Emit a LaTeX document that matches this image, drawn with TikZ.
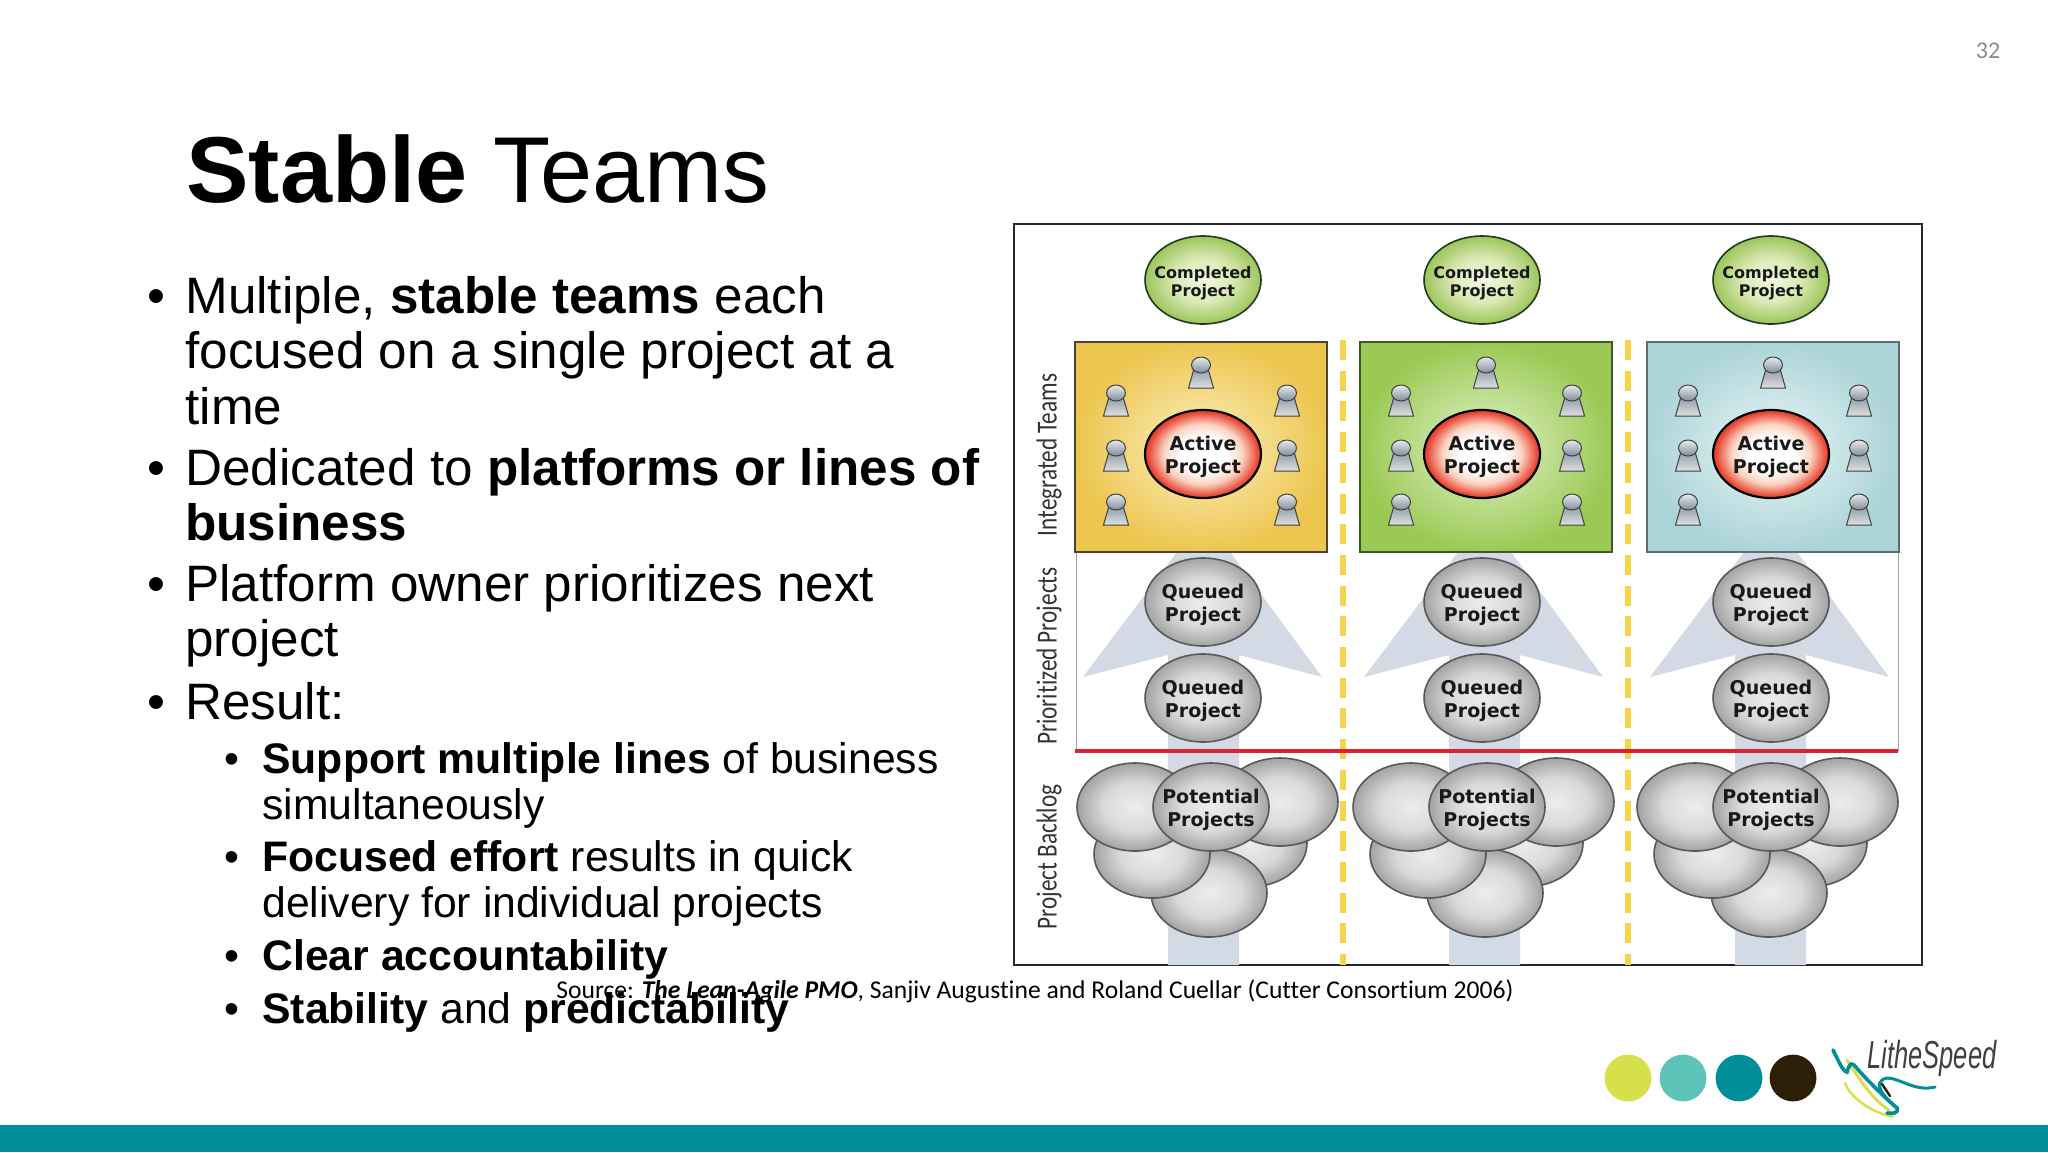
\documentclass[tikz,border=0pt]{standalone}
\usepackage{fontspec}
\setmainfont{Liberation Sans}
\newfontfamily\srcfont[Ligatures=NoCommon]{Carlito}
\newfontfamily\boxfont{DejaVu Sans}
\usetikzlibrary{calc}
\usetikzlibrary{shapes.geometric}

\definecolor{barteal}{HTML}{008E9B}
\definecolor{dotlime}{HTML}{D6E04B}
\definecolor{dotaqua}{HTML}{5FC4B8}
\definecolor{dotbrown}{HTML}{2D1F07}
\definecolor{arrowblue}{HTML}{D3DAE6}
\definecolor{divideryellow}{HTML}{F6D548}
\definecolor{redline}{HTML}{D9232E}
\definecolor{activepink}{HTML}{FBD3C2}
\definecolor{activered}{HTML}{E8432F}
\definecolor{greenmid}{HTML}{DDEBB8}
\definecolor{greenedge}{HTML}{9CC55A}
\definecolor{greenline}{HTML}{1F3A1F}
\definecolor{slate}{HTML}{7D8D9C}

\pgfdeclareradialshading{activeball}{\pgfpoint{0bp}{0bp}}{color(0bp)=(white);color(10bp)=(white);color(17bp)=(activepink);color(24bp)=(activered);color(50bp)=(activered)}
\pgfdeclareradialshading{greyball}{\pgfpoint{0bp}{0bp}}{color(0bp)=(black!7);color(14bp)=(black!15);color(25bp)=(black!36);color(50bp)=(black!36)}
\pgfdeclareradialshading{greenball}{\pgfpoint{0bp}{0bp}}{color(0bp)=(greenmid!40!white);color(12bp)=(greenmid);color(25bp)=(greenedge);color(50bp)=(greenedge)}

\tikzset{
  slidetext/.style={anchor=base west,inner sep=0pt},
  bodyline/.style={slidetext,font=\fontsize{25.6}{25.6}\selectfont},
  subline/.style={slidetext,font=\fontsize{21.35}{21.35}\selectfont},
  ball/.style={ellipse,draw,inner sep=0pt,minimum width=58pt,minimum height=44pt},
  completedball/.style={ball,draw=greenline,line width=.8pt,shading=greenball},
  activeball/.style={ball,draw=black,line width=1.1pt,shading=activeball},
  greyball/.style={ball,draw=black!65,line width=.8pt,shading=greyball},
  balltext/.style={inner sep=0pt,yshift=-1.5pt,align=center,text=black!90,font=\boxfont\bfseries\fontsize{9.5}{11.3}\selectfont},
  smalltext/.style={balltext,font=\boxfont\bfseries\fontsize{8}{9}\selectfont},
  rowlabel/.style={rotate=90,xscale=.8,inner sep=0pt,text=black!80,font=\srcfont\fontsize{14.5}{14.5}\selectfont},
  dot/.style={circle,inner sep=0pt,minimum size=23.4pt},
  person/.pic={
    \draw[draw=black!75,line width=.5pt,top color=slate,bottom color=black!12]
      (-12.5,0) -- (-6,-23) -- (6,-23) -- (12.5,0) -- cycle;
    \draw[draw=black!75,line width=.5pt,top color=black!8,bottom color=slate]
      (0,-23) ellipse (9.5 and 8);
  }
}

\begin{document}
\begin{tikzpicture}[x=.5pt,y=-.5pt]
  \useasboundingbox (0,0) rectangle (2048,1152);
  \fill[white] (0,0) rectangle (2048,1152);

  % slide number and title
  \node[text=black!45,font=\srcfont\fontsize{12}{12}\selectfont] (pagenum) at (1988,51) {32};
  \node[slidetext,font=\fontsize{46.8}{46.8}\selectfont] (title) at (186,202) {\textbf{Stable} Teams};

  % bullets, first level
  \foreach \i/\y in {a/313,b/485,c/601,d/719}
    \node[bodyline] (bullet\i) at (147,\y) {•};
  \node[bodyline] (l1) at (185,313) {Multiple, \textbf{stable teams} each};
  \node[bodyline] (l2) at (185,368) {focused on a single project at a};
  \node[bodyline] (l3) at (185,424) {time};
  \node[bodyline] (l4) at (185,485) {Dedicated to \textbf{platforms or lines of}};
  \node[bodyline] (l5) at (185,540) {\textbf{business}};
  \node[bodyline] (l6) at (185,601) {Platform owner prioritizes next};
  \node[bodyline] (l7) at (185,656) {project};
  \node[bodyline] (l8) at (185,719) {Result:};

  % bullets, second level
  \foreach \i/\y in {a/773,b/871,c/970,d/1023}
    \node[subline] (sub\i) at (224,\y) {•};
  \node[subline] (s1) at (262,773) {\textbf{Support multiple lines} of business};
  \node[subline] (s2) at (262,819) {simultaneously};
  \node[subline] (s3) at (262,871) {\textbf{Focused effort} results in quick};
  \node[subline] (s4) at (262,917) {delivery for individual projects};
  \node[subline] (s5) at (262,970) {\textbf{Clear accountability}};
  \node[subline] (s6) at (262,1023) {\textbf{Stability} and \textbf{predictability}};

  % picture frame
  \coordinate (frameNW) at (1014,224);
  \coordinate (frameSE) at (1922,965);
  \draw[line width=1pt,draw=black!85] (frameNW) rectangle (frameSE);

  % arrows behind everything, one per column
  \foreach \c/\dx in {a/0,b/281,c/567}{
    \fill[arrowblue,shift={(\dx,0)}] (1168,965) -- (1168,655) -- (1083,677) -- (1177,552) -- (1230,552)
      -- (1322,677) -- (1239,655) -- (1239,965) -- cycle;
  }

  % thin sides of the queue area
  \coordinate (sideAtop) at (1076,552);
  \coordinate (sideAbot) at (1076,751);
  \coordinate (sideBtop) at (1898,552);
  \coordinate (sideBbot) at (1898,751);
  \draw[black!35,line width=.5pt] (sideAtop) -- (sideAbot);
  \draw[black!35,line width=.5pt] (sideBtop) -- (sideBbot);

  % dashed dividers
  \foreach \c/\x in {a/1343,b/1628}{
    \coordinate (div\c top) at (\x,340);
    \coordinate (div\c bot) at (\x,965);
    \draw[divideryellow,line width=2.8pt,dash pattern=on 10pt off 5.35pt] (div\c top) -- (div\c bot);
  }

  % team boxes
  \foreach \c/\dx/\outer/\inner/\rim in {a/0/EDC650/FBF0C0/4A4430,b/285/9ACA54/E4F2CC/3F5A2A,c/572/ABD4D9/EAF5F6/5C6E72}{
    \definecolor{boxout}{HTML}{\outer}
    \definecolor{boxin}{HTML}{\inner}
    \definecolor{boxrim}{HTML}{\rim}
    \draw[boxrim,line width=.9pt,inner color=boxin,outer color=boxout,shift={(\dx,0)}] (1075,342) rectangle (1327,552);
    \foreach \px/\py in {1201/388,1116/416,1287/416,1116/471,1287/471,1116/525,1287/525}
      \pic[shift={(\dx,0)}] at (\px,\py) {person};
  }

  % red line
  \coordinate (redW) at (1075,751);
  \coordinate (redE) at (1898,751);
  \draw[redline,line width=2.2pt] (redW) -- (redE);

  % balls of each column
  \foreach \c/\dx in {a/0,b/279,c/568}{
    \node[completedball] (done\c) at (1203+\dx,280) {};
    \node[smalltext] (donetext\c) at (done\c) {Completed\\Project};
    \node[activeball] (active\c) at (1203+\dx,454) {};
    \node[balltext] (activetext\c) at (active\c) {Active\\Project};
    \node[greyball] (queueA\c) at (1203+\dx,602) {};
    \node[balltext] (queueAtext\c) at (queueA\c) {Queued\\Project};
    \node[greyball] (queueB\c) at (1203+\dx,698) {};
    \node[balltext] (queueBtext\c) at (queueB\c) {Queued\\Project};
  }

  % backlog piles, back to front
  \foreach \c/\dx in {a/0,b/276,c/560}{
    \node[greyball] (pileA\c) at (1249+\dx,843) {};
    \node[greyball] (pileB\c) at (1209+\dx,893) {};
    \node[greyball] (pileC\c) at (1152+\dx,854) {};
    \node[greyball] (pileD\c) at (1135+\dx,807) {};
    \node[greyball] (pileE\c) at (1280+\dx,802) {};
    \node[greyball] (pileF\c) at (1211+\dx,807) {};
    \node[balltext] (piletext\c) at (pileF\c) {Potential\\Projects};
  }

  % row labels
  \node[rowlabel] (rowteams) at (1049,455) {Integrated Teams};
  \node[rowlabel] (rowqueue) at (1049,656) {Prioritized Projects};
  \node[rowlabel] (rowpile) at (1049,857) {Project Backlog};

  % source line
  \node[slidetext,font=\srcfont\fontsize{12.8}{12.8}\selectfont] (source) at (556,998)
    {Source: \textbf{\textit{The Lean-Agile PMO}}, Sanjiv Augustine and Roland Cuellar (Cutter Consortium 2006)};

  % footer
  \fill[barteal] (0,1124.5) rectangle (2048,1152);
  \node[dot,fill=dotlime] (dotA) at (1628,1078) {};
  \node[dot,fill=dotaqua] (dotB) at (1683,1078) {};
  \node[dot,fill=barteal] (dotC) at (1739,1078) {};
  \node[dot,fill=dotbrown] (dotD) at (1793,1078) {};

  % logo
  \draw[dotlime,line width=1.2pt,line cap=round] (1845,1083) .. controls (1850,1097) and (1870,1112) .. (1893,1117);
  \draw[dotlime,line width=1.5pt,line cap=round] (1847,1060) .. controls (1855,1072) and (1870,1098) .. (1890,1111);
  \draw[barteal,line width=1.8pt,line cap=round] (1833,1050) .. controls (1838,1060) and (1843,1072) .. (1847,1072)
    .. controls (1849,1066) and (1850,1062) .. (1854,1065) .. controls (1865,1078) and (1885,1098) .. (1897,1108)
    .. controls (1899,1113) and (1893,1114) .. (1887,1113);
  \draw[barteal,line width=1.5pt,line cap=round] (1897,1108) .. controls (1885,1098) and (1870,1082) .. (1887,1078)
    .. controls (1900,1078) and (1915,1092) .. (1935,1087);
  \draw[dotbrown,line width=1.2pt,line cap=round] (1882,1084) -- (1890,1096);
  \node[inner sep=0pt,text=black!75,font=\fontsize{13}{13}\selectfont\itshape,xscale=.98,yscale=1.5] (logo) at (1932,1058) {LitheSpeed};
\end{tikzpicture}
\end{document}
